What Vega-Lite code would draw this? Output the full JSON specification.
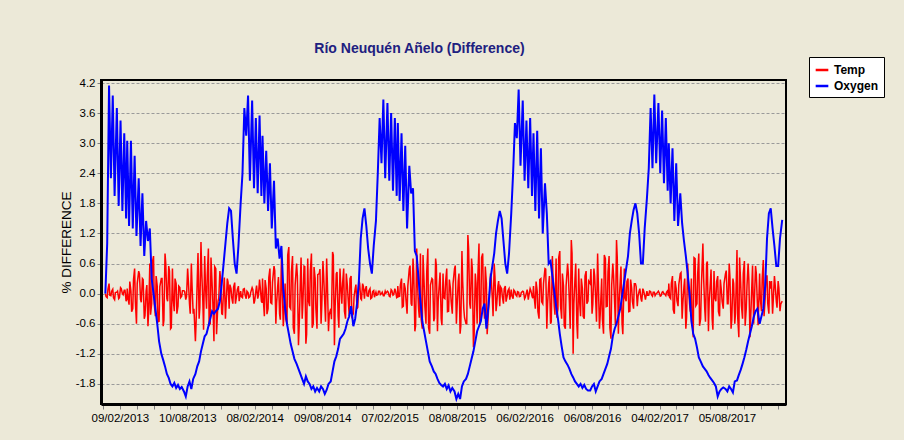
{
"$schema":"https://vega.github.io/schema/vega-lite/v6.json",
"width":685,"height":324,
"autosize":{"type":"none"},
"padding":{"left":101,"top":80,"right":118,"bottom":36},
"background":"#ECE9D8",
"title":{"text":"Río Neuquén Añelo (Difference)","font":"Liberation Sans","fontSize":14,"fontWeight":"bold","color":"#202080","anchor":"middle","dx":-24,"offset":1},
"config":{"view":{"stroke":"#000","strokeWidth":2},"font":"Liberation Sans","axisY":{"labelOverlap":false},"axisX":{"labelOverlap":false}},
"data":{"values":[
{"d":"2013-01-01","t":0,"o":0},
{"d":"2013-01-06","t":-0.08,"o":1.0},
{"d":"2013-01-11","t":0.2,"o":4.15},
{"d":"2013-01-16","t":-0.04,"o":2.3},
{"d":"2013-01-21","t":0.09,"o":3.95},
{"d":"2013-01-26","t":-0.12,"o":1.95},
{"d":"2013-02-01","t":0.03,"o":3.7},
{"d":"2013-02-06","t":-0.1,"o":1.75},
{"d":"2013-02-11","t":0.12,"o":3.45},
{"d":"2013-02-16","t":0.0,"o":1.65},
{"d":"2013-02-21","t":0.07,"o":3.2},
{"d":"2013-02-26","t":-0.15,"o":1.5},
{"d":"2013-03-01","t":0.1,"o":3.05},
{"d":"2013-03-06","t":-0.22,"o":1.35},
{"d":"2013-03-11","t":0.05,"o":3.05},
{"d":"2013-03-16","t":-0.3,"o":1.3},
{"d":"2013-03-21","t":0.5,"o":2.75},
{"d":"2013-03-26","t":-0.6,"o":1.15},
{"d":"2013-04-01","t":0.45,"o":2.3},
{"d":"2013-04-06","t":-0.12,"o":0.95},
{"d":"2013-04-11","t":0.3,"o":2.0},
{"d":"2013-04-16","t":-0.5,"o":0.75},
{"d":"2013-04-21","t":0.05,"o":1.45},
{"d":"2013-04-26","t":-0.65,"o":1.05},
{"d":"2013-05-01","t":0.6,"o":1.3},
{"d":"2013-05-06","t":-0.2,"o":0.3},
{"d":"2013-05-11","t":0.75,"o":0.0},
{"d":"2013-05-16","t":-0.45,"o":-0.3},
{"d":"2013-05-21","t":0.15,"o":-0.6},
{"d":"2013-05-26","t":-0.55,"o":-0.95},
{"d":"2013-06-01","t":0.3,"o":-1.2},
{"d":"2013-06-06","t":-0.65,"o":-1.32},
{"d":"2013-06-11","t":0.8,"o":-1.45},
{"d":"2013-06-16","t":-0.1,"o":-1.6},
{"d":"2013-06-21","t":0.55,"o":-1.68},
{"d":"2013-06-26","t":-0.7,"o":-1.8},
{"d":"2013-07-01","t":0.5,"o":-1.85},
{"d":"2013-07-06","t":-0.35,"o":-1.78},
{"d":"2013-07-11","t":0.2,"o":-1.88},
{"d":"2013-07-16","t":-0.25,"o":-1.82},
{"d":"2013-07-21","t":0.12,"o":-1.9},
{"d":"2013-07-26","t":-0.05,"o":-1.86},
{"d":"2013-08-01","t":0.06,"o":-1.95},
{"d":"2013-08-06","t":-0.12,"o":-2.05},
{"d":"2013-08-11","t":0.5,"o":-1.85},
{"d":"2013-08-16","t":-0.2,"o":-1.75},
{"d":"2013-08-21","t":0.6,"o":-1.9},
{"d":"2013-08-26","t":-0.4,"o":-1.7},
{"d":"2013-09-01","t":-0.95,"o":-1.6},
{"d":"2013-09-06","t":0.3,"o":-1.45},
{"d":"2013-09-11","t":-0.5,"o":-1.35},
{"d":"2013-09-16","t":1.03,"o":-1.15},
{"d":"2013-09-21","t":-0.15,"o":-1.0},
{"d":"2013-09-26","t":0.75,"o":-0.85},
{"d":"2013-10-01","t":-0.3,"o":-0.8},
{"d":"2013-10-06","t":0.9,"o":-0.65},
{"d":"2013-10-11","t":-0.6,"o":-0.5},
{"d":"2013-10-16","t":0.2,"o":-0.35},
{"d":"2013-10-21","t":-0.95,"o":-0.4},
{"d":"2013-10-26","t":0.5,"o":-0.35},
{"d":"2013-11-01","t":-0.15,"o":-0.3},
{"d":"2013-11-06","t":0.45,"o":-0.15},
{"d":"2013-11-11","t":-0.4,"o":0.2},
{"d":"2013-11-16","t":0.1,"o":0.6},
{"d":"2013-11-21","t":-0.5,"o":1.0},
{"d":"2013-11-26","t":0.3,"o":1.4},
{"d":"2013-12-01","t":-0.3,"o":1.7},
{"d":"2013-12-06","t":0.1,"o":1.65},
{"d":"2013-12-11","t":-0.2,"o":1.1},
{"d":"2013-12-16","t":0.22,"o":0.6},
{"d":"2013-12-21","t":-0.05,"o":0.4},
{"d":"2013-12-26","t":0.15,"o":0.95},
{"d":"2014-01-01","t":0.05,"o":1.8},
{"d":"2014-01-06","t":-0.08,"o":2.4},
{"d":"2014-01-11","t":0.1,"o":3.7},
{"d":"2014-01-16","t":-0.1,"o":3.15},
{"d":"2014-01-21","t":0.02,"o":3.95},
{"d":"2014-01-26","t":-0.06,"o":2.25},
{"d":"2014-02-01","t":0.12,"o":3.85},
{"d":"2014-02-06","t":-0.2,"o":2.1},
{"d":"2014-02-11","t":0.05,"o":3.5},
{"d":"2014-02-16","t":-0.1,"o":2.0},
{"d":"2014-02-21","t":0.28,"o":3.55},
{"d":"2014-02-26","t":-0.15,"o":1.95},
{"d":"2014-03-01","t":0.3,"o":3.15},
{"d":"2014-03-06","t":-0.45,"o":1.8},
{"d":"2014-03-11","t":0.1,"o":2.85},
{"d":"2014-03-16","t":-0.3,"o":1.65},
{"d":"2014-03-21","t":0.5,"o":2.6},
{"d":"2014-03-26","t":-0.2,"o":1.3},
{"d":"2014-04-01","t":0.55,"o":2.25},
{"d":"2014-04-06","t":-0.6,"o":0.9},
{"d":"2014-04-11","t":0.15,"o":1.1},
{"d":"2014-04-16","t":-0.4,"o":0.7},
{"d":"2014-04-21","t":0.7,"o":0.95},
{"d":"2014-04-26","t":-0.65,"o":0.1},
{"d":"2014-05-01","t":0.2,"o":-0.3},
{"d":"2014-05-06","t":-0.6,"o":-0.6},
{"d":"2014-05-11","t":0.93,"o":-0.8},
{"d":"2014-05-16","t":-0.3,"o":-1.0},
{"d":"2014-05-21","t":0.75,"o":-1.15},
{"d":"2014-05-26","t":-0.8,"o":-1.3},
{"d":"2014-06-01","t":0.6,"o":-1.4},
{"d":"2014-06-06","t":-1.03,"o":-1.5},
{"d":"2014-06-11","t":0.2,"o":-1.6},
{"d":"2014-06-16","t":-0.5,"o":-1.7},
{"d":"2014-06-21","t":0.55,"o":-1.8},
{"d":"2014-06-26","t":-1.0,"o":-1.65},
{"d":"2014-07-01","t":0.7,"o":-1.75},
{"d":"2014-07-06","t":-0.25,"o":-1.8},
{"d":"2014-07-11","t":0.8,"o":-1.9},
{"d":"2014-07-16","t":-0.6,"o":-1.85},
{"d":"2014-07-21","t":0.3,"o":-1.95},
{"d":"2014-07-26","t":-0.7,"o":-1.88},
{"d":"2014-08-01","t":0.4,"o":-1.95},
{"d":"2014-08-06","t":-0.6,"o":-1.85},
{"d":"2014-08-11","t":0.65,"o":-1.9},
{"d":"2014-08-16","t":-0.2,"o":-2.0},
{"d":"2014-08-21","t":0.7,"o":-1.92},
{"d":"2014-08-26","t":-0.75,"o":-1.8},
{"d":"2014-09-01","t":-0.3,"o":-1.75},
{"d":"2014-09-06","t":0.83,"o":-1.55},
{"d":"2014-09-11","t":-1.03,"o":-1.35},
{"d":"2014-09-16","t":0.4,"o":-1.25},
{"d":"2014-09-21","t":-0.45,"o":-1.1},
{"d":"2014-09-26","t":0.5,"o":-0.9},
{"d":"2014-10-01","t":-0.2,"o":-0.85},
{"d":"2014-10-06","t":0.5,"o":-0.8},
{"d":"2014-10-11","t":-0.5,"o":-0.7},
{"d":"2014-10-16","t":0.15,"o":-0.55},
{"d":"2014-10-21","t":-0.45,"o":-0.45},
{"d":"2014-10-26","t":0.35,"o":-0.25},
{"d":"2014-11-01","t":-0.4,"o":-0.65},
{"d":"2014-11-06","t":0.1,"o":-0.5},
{"d":"2014-11-11","t":-0.3,"o":-0.2},
{"d":"2014-11-16","t":0.25,"o":0.25},
{"d":"2014-11-21","t":-0.1,"o":1.1},
{"d":"2014-11-26","t":0.2,"o":1.5},
{"d":"2014-12-01","t":-0.1,"o":1.7},
{"d":"2014-12-06","t":0.15,"o":1.35},
{"d":"2014-12-11","t":-0.05,"o":0.9},
{"d":"2014-12-16","t":0.1,"o":0.6},
{"d":"2014-12-21","t":-0.08,"o":0.4},
{"d":"2014-12-26","t":0.06,"o":0.95},
{"d":"2015-01-01","t":0.03,"o":1.45},
{"d":"2015-01-06","t":-0.02,"o":2.4},
{"d":"2015-01-11","t":0.05,"o":3.5},
{"d":"2015-01-16","t":0.0,"o":2.6},
{"d":"2015-01-21","t":-0.04,"o":3.87},
{"d":"2015-01-26","t":0.05,"o":2.3},
{"d":"2015-02-01","t":0.05,"o":3.8},
{"d":"2015-02-06","t":-0.05,"o":2.25},
{"d":"2015-02-11","t":0.08,"o":3.6},
{"d":"2015-02-16","t":-0.03,"o":2.05},
{"d":"2015-02-21","t":0.1,"o":3.5},
{"d":"2015-02-26","t":-0.08,"o":1.95},
{"d":"2015-03-01","t":0.15,"o":3.4},
{"d":"2015-03-06","t":-0.05,"o":1.85},
{"d":"2015-03-11","t":0.3,"o":3.2},
{"d":"2015-03-16","t":-0.25,"o":1.65},
{"d":"2015-03-21","t":0.1,"o":2.95},
{"d":"2015-03-26","t":-0.4,"o":1.3},
{"d":"2015-04-01","t":0.5,"o":2.55},
{"d":"2015-04-06","t":-0.2,"o":2.0},
{"d":"2015-04-11","t":0.7,"o":2.1},
{"d":"2015-04-16","t":-0.75,"o":0.85},
{"d":"2015-04-21","t":0.9,"o":0.75},
{"d":"2015-04-26","t":-0.3,"o":0.3},
{"d":"2015-05-01","t":0.8,"o":-0.15},
{"d":"2015-05-06","t":-0.7,"o":-0.55},
{"d":"2015-05-11","t":0.2,"o":-0.75},
{"d":"2015-05-16","t":-0.6,"o":-0.95},
{"d":"2015-05-21","t":0.9,"o":-1.15},
{"d":"2015-05-26","t":-0.8,"o":-1.35},
{"d":"2015-06-01","t":0.3,"o":-1.45},
{"d":"2015-06-06","t":-0.55,"o":-1.55},
{"d":"2015-06-11","t":0.7,"o":-1.6},
{"d":"2015-06-16","t":-0.75,"o":-1.7},
{"d":"2015-06-21","t":0.2,"o":-1.78},
{"d":"2015-06-26","t":-0.5,"o":-1.82},
{"d":"2015-07-01","t":0.4,"o":-1.85},
{"d":"2015-07-06","t":-0.1,"o":-1.8},
{"d":"2015-07-11","t":0.5,"o":-1.9},
{"d":"2015-07-16","t":-0.35,"o":-1.83},
{"d":"2015-07-21","t":0.1,"o":-1.95},
{"d":"2015-07-26","t":-0.4,"o":-1.88},
{"d":"2015-08-01","t":0.5,"o":-1.95},
{"d":"2015-08-06","t":-0.6,"o":-2.1},
{"d":"2015-08-11","t":0.25,"o":-2.0},
{"d":"2015-08-16","t":-0.8,"o":-2.1},
{"d":"2015-08-21","t":0.85,"o":-1.85},
{"d":"2015-08-26","t":-0.3,"o":-1.75},
{"d":"2015-09-01","t":-0.6,"o":-1.7},
{"d":"2015-09-06","t":1.17,"o":-1.6},
{"d":"2015-09-11","t":-0.2,"o":-1.45},
{"d":"2015-09-16","t":0.7,"o":-1.3},
{"d":"2015-09-21","t":-1.07,"o":-1.15},
{"d":"2015-09-26","t":0.4,"o":-0.95},
{"d":"2015-10-01","t":-0.6,"o":-0.75},
{"d":"2015-10-06","t":1.0,"o":-0.65},
{"d":"2015-10-11","t":-0.3,"o":-0.55},
{"d":"2015-10-16","t":0.8,"o":-0.3},
{"d":"2015-10-21","t":-0.5,"o":-0.2},
{"d":"2015-10-26","t":0.2,"o":-0.7},
{"d":"2015-11-01","t":-0.3,"o":-0.2},
{"d":"2015-11-06","t":0.4,"o":0.3},
{"d":"2015-11-11","t":-0.1,"o":0.55},
{"d":"2015-11-16","t":0.6,"o":0.8},
{"d":"2015-11-21","t":-0.35,"o":1.2},
{"d":"2015-11-26","t":0.15,"o":1.45},
{"d":"2015-12-01","t":-0.25,"o":1.65},
{"d":"2015-12-06","t":0.1,"o":1.5},
{"d":"2015-12-11","t":-0.2,"o":1.05},
{"d":"2015-12-16","t":0.15,"o":0.6},
{"d":"2015-12-21","t":-0.05,"o":0.4},
{"d":"2015-12-26","t":0.1,"o":0.8},
{"d":"2016-01-01","t":0.08,"o":1.6},
{"d":"2016-01-06","t":-0.1,"o":2.4},
{"d":"2016-01-11","t":0.04,"o":3.4},
{"d":"2016-01-16","t":-0.05,"o":3.1},
{"d":"2016-01-21","t":0.03,"o":4.07},
{"d":"2016-01-26","t":-0.05,"o":2.55},
{"d":"2016-02-01","t":0.05,"o":3.85},
{"d":"2016-02-06","t":-0.1,"o":2.25},
{"d":"2016-02-11","t":0.02,"o":3.45},
{"d":"2016-02-16","t":-0.12,"o":2.1},
{"d":"2016-02-21","t":0.1,"o":3.5},
{"d":"2016-02-26","t":-0.05,"o":1.95},
{"d":"2016-03-01","t":0.15,"o":3.2},
{"d":"2016-03-06","t":-0.3,"o":1.65},
{"d":"2016-03-11","t":0.05,"o":3.25},
{"d":"2016-03-16","t":-0.5,"o":1.5},
{"d":"2016-03-21","t":0.3,"o":2.9},
{"d":"2016-03-26","t":-0.2,"o":1.2},
{"d":"2016-04-01","t":0.5,"o":2.2},
{"d":"2016-04-06","t":-0.7,"o":1.6},
{"d":"2016-04-11","t":0.2,"o":0.6},
{"d":"2016-04-16","t":-0.6,"o":0.65},
{"d":"2016-04-21","t":0.75,"o":0.35},
{"d":"2016-04-26","t":-0.25,"o":0.05},
{"d":"2016-05-01","t":0.7,"o":-0.25},
{"d":"2016-05-06","t":-0.3,"o":-0.5},
{"d":"2016-05-11","t":0.85,"o":-0.8},
{"d":"2016-05-16","t":-0.5,"o":-1.05},
{"d":"2016-05-21","t":0.15,"o":-1.27},
{"d":"2016-05-26","t":-0.7,"o":-1.35},
{"d":"2016-06-01","t":0.6,"o":-1.42},
{"d":"2016-06-06","t":-0.2,"o":-1.5},
{"d":"2016-06-11","t":1.07,"o":-1.6},
{"d":"2016-06-16","t":-1.2,"o":-1.67},
{"d":"2016-06-21","t":0.3,"o":-1.75},
{"d":"2016-06-26","t":-0.6,"o":-1.8},
{"d":"2016-07-01","t":0.5,"o":-1.85},
{"d":"2016-07-06","t":-0.45,"o":-1.8},
{"d":"2016-07-11","t":0.1,"o":-1.88},
{"d":"2016-07-16","t":-0.5,"o":-1.82},
{"d":"2016-07-21","t":0.45,"o":-1.9},
{"d":"2016-07-26","t":-0.15,"o":-1.93},
{"d":"2016-08-01","t":0.2,"o":-1.93},
{"d":"2016-08-06","t":-0.4,"o":-1.85},
{"d":"2016-08-11","t":0.5,"o":-1.8},
{"d":"2016-08-16","t":-0.15,"o":-1.95},
{"d":"2016-08-21","t":0.8,"o":-1.85},
{"d":"2016-08-26","t":-0.7,"o":-1.75},
{"d":"2016-09-01","t":0.3,"o":-1.7},
{"d":"2016-09-06","t":-0.8,"o":-1.6},
{"d":"2016-09-11","t":0.7,"o":-1.5},
{"d":"2016-09-16","t":-0.25,"o":-1.4},
{"d":"2016-09-21","t":0.75,"o":-1.25},
{"d":"2016-09-26","t":-0.9,"o":-1.1},
{"d":"2016-10-01","t":0.6,"o":-0.85},
{"d":"2016-10-06","t":-0.2,"o":-0.7},
{"d":"2016-10-11","t":1.07,"o":-0.6},
{"d":"2016-10-16","t":-0.8,"o":-0.45},
{"d":"2016-10-21","t":0.25,"o":-0.3},
{"d":"2016-10-26","t":-0.6,"o":-0.05},
{"d":"2016-11-01","t":0.5,"o":0.25},
{"d":"2016-11-06","t":-0.15,"o":0.5},
{"d":"2016-11-11","t":0.3,"o":0.75},
{"d":"2016-11-16","t":-0.35,"o":1.2},
{"d":"2016-11-21","t":0.1,"o":1.45},
{"d":"2016-11-26","t":-0.3,"o":1.67},
{"d":"2016-12-01","t":0.2,"o":1.8},
{"d":"2016-12-06","t":-0.25,"o":1.6},
{"d":"2016-12-11","t":0.05,"o":1.2},
{"d":"2016-12-16","t":-0.1,"o":0.6},
{"d":"2016-12-21","t":0.1,"o":0.6},
{"d":"2016-12-26","t":-0.04,"o":1.3},
{"d":"2017-01-01","t":0.05,"o":1.9},
{"d":"2017-01-06","t":-0.03,"o":2.5},
{"d":"2017-01-11","t":0.04,"o":3.7},
{"d":"2017-01-16","t":-0.05,"o":2.5},
{"d":"2017-01-21","t":0.03,"o":3.97},
{"d":"2017-01-26","t":0.0,"o":2.6},
{"d":"2017-02-01","t":0.05,"o":3.8},
{"d":"2017-02-06","t":-0.05,"o":2.4},
{"d":"2017-02-11","t":0.03,"o":3.65},
{"d":"2017-02-16","t":0.0,"o":2.2},
{"d":"2017-02-21","t":-0.04,"o":3.5},
{"d":"2017-02-26","t":0.06,"o":2.05},
{"d":"2017-03-01","t":0.2,"o":3.0},
{"d":"2017-03-06","t":-0.1,"o":1.8},
{"d":"2017-03-11","t":0.35,"o":2.9},
{"d":"2017-03-16","t":-0.4,"o":1.45},
{"d":"2017-03-21","t":0.1,"o":2.6},
{"d":"2017-03-26","t":-0.25,"o":1.35},
{"d":"2017-04-01","t":0.4,"o":2.0},
{"d":"2017-04-06","t":-0.5,"o":1.4},
{"d":"2017-04-11","t":0.15,"o":1.05},
{"d":"2017-04-16","t":-0.7,"o":0.75},
{"d":"2017-04-21","t":0.6,"o":0.4},
{"d":"2017-04-26","t":-0.2,"o":0.0},
{"d":"2017-05-01","t":0.3,"o":-0.55},
{"d":"2017-05-06","t":-0.87,"o":-0.8},
{"d":"2017-05-11","t":0.7,"o":-0.9},
{"d":"2017-05-16","t":-0.2,"o":-1.07},
{"d":"2017-05-21","t":0.8,"o":-1.27},
{"d":"2017-05-26","t":-0.5,"o":-1.35},
{"d":"2017-06-01","t":1.0,"o":-1.45},
{"d":"2017-06-06","t":-0.3,"o":-1.5},
{"d":"2017-06-11","t":0.6,"o":-1.55},
{"d":"2017-06-16","t":-0.75,"o":-1.62},
{"d":"2017-06-21","t":0.2,"o":-1.68},
{"d":"2017-06-26","t":-0.5,"o":-1.73},
{"d":"2017-07-01","t":0.45,"o":-1.78},
{"d":"2017-07-06","t":-0.15,"o":-1.85},
{"d":"2017-07-11","t":0.35,"o":-2.05},
{"d":"2017-07-16","t":-0.45,"o":-1.95},
{"d":"2017-07-21","t":0.05,"o":-1.9},
{"d":"2017-07-26","t":-0.3,"o":-1.87},
{"d":"2017-08-01","t":0.4,"o":-1.9},
{"d":"2017-08-06","t":-0.2,"o":-1.95},
{"d":"2017-08-11","t":0.6,"o":-1.85},
{"d":"2017-08-16","t":-0.7,"o":-1.9},
{"d":"2017-08-21","t":0.3,"o":-1.97},
{"d":"2017-08-26","t":-0.6,"o":-1.75},
{"d":"2017-09-01","t":0.87,"o":-1.73},
{"d":"2017-09-06","t":-0.87,"o":-1.62},
{"d":"2017-09-11","t":0.2,"o":-1.52},
{"d":"2017-09-16","t":-0.5,"o":-1.4},
{"d":"2017-09-21","t":0.65,"o":-1.27},
{"d":"2017-09-26","t":-0.3,"o":-1.12},
{"d":"2017-10-01","t":0.6,"o":-0.95},
{"d":"2017-10-06","t":-0.87,"o":-0.8},
{"d":"2017-10-11","t":0.15,"o":-0.65},
{"d":"2017-10-16","t":-0.6,"o":-0.47},
{"d":"2017-10-21","t":0.55,"o":-0.35},
{"d":"2017-10-26","t":-0.2,"o":-0.3},
{"d":"2017-11-01","t":0.4,"o":-0.6},
{"d":"2017-11-06","t":-0.35,"o":-0.45},
{"d":"2017-11-11","t":0.67,"o":-0.3},
{"d":"2017-11-16","t":-0.1,"o":0.15},
{"d":"2017-11-21","t":0.35,"o":1.1},
{"d":"2017-11-26","t":-0.4,"o":1.6},
{"d":"2017-12-01","t":0.1,"o":1.7},
{"d":"2017-12-06","t":-0.4,"o":1.3},
{"d":"2017-12-11","t":0.35,"o":0.95},
{"d":"2017-12-16","t":-0.15,"o":0.55},
{"d":"2017-12-21","t":0.25,"o":0.55},
{"d":"2017-12-26","t":-0.35,"o":1.1},
{"d":"2018-01-01","t":-0.15,"o":1.47},
{"d":"2013-01-03","t":-0.06},{"d":"2013-01-08","t":0.09},{"d":"2013-01-13","t":-0.03},{"d":"2013-01-18","t":0.05},{"d":"2013-01-23","t":-0.08},{"d":"2013-01-28","t":0.02},
{"d":"2013-02-03","t":0.05},{"d":"2013-02-08","t":-0.08},{"d":"2013-02-13","t":0.1},{"d":"2013-02-18","t":-0.02},{"d":"2013-02-23","t":0.07},{"d":"2013-02-28","t":-0.11},
{"d":"2013-03-03","t":-0.08},{"d":"2013-03-08","t":0.24},{"d":"2013-03-13","t":-0.36},{"d":"2013-03-18","t":0.28},{"d":"2013-03-23","t":-0.16},{"d":"2013-03-28","t":0.2},
{"d":"2013-04-03","t":0.39},{"d":"2013-04-08","t":-0.17},{"d":"2013-04-13","t":0.28},{"d":"2013-04-18","t":-0.44},{"d":"2013-04-23","t":0.17},{"d":"2013-04-28","t":-0.33},
{"d":"2013-05-03","t":-0.42},{"d":"2013-05-08","t":0.63},{"d":"2013-05-13","t":-0.21},{"d":"2013-05-18","t":0.35},{"d":"2013-05-23","t":-0.56},{"d":"2013-05-28","t":0.14},
{"d":"2013-06-03","t":0.3},{"d":"2013-06-08","t":-0.53},{"d":"2013-06-13","t":0.6},{"d":"2013-06-18","t":-0.15},{"d":"2013-06-23","t":0.45},{"d":"2013-06-28","t":-0.68},
{"d":"2013-07-03","t":-0.1},{"d":"2013-07-08","t":0.3},{"d":"2013-07-13","t":-0.4},{"d":"2013-07-18","t":0.15},{"d":"2013-07-23","t":-0.08},{"d":"2013-07-28","t":0.06},
{"d":"2013-08-03","t":0.04},{"d":"2013-08-08","t":-0.06},{"d":"2013-08-13","t":0.25},{"d":"2013-08-18","t":-0.4},{"d":"2013-08-23","t":0.15},{"d":"2013-08-28","t":-0.3},
{"d":"2013-09-03","t":-0.54},{"d":"2013-09-08","t":0.81},{"d":"2013-09-13","t":-0.27},{"d":"2013-09-18","t":0.45},{"d":"2013-09-23","t":-0.72},{"d":"2013-09-28","t":0.18},
{"d":"2013-10-03","t":0.36},{"d":"2013-10-08","t":-0.63},{"d":"2013-10-13","t":0.72},{"d":"2013-10-18","t":-0.18},{"d":"2013-10-23","t":0.54},{"d":"2013-10-28","t":-0.81},
{"d":"2013-11-03","t":-0.09},{"d":"2013-11-08","t":0.27},{"d":"2013-11-13","t":-0.41},{"d":"2013-11-18","t":0.32},{"d":"2013-11-23","t":-0.18},{"d":"2013-11-28","t":0.23},
{"d":"2013-12-03","t":0.18},{"d":"2013-12-08","t":-0.08},{"d":"2013-12-13","t":0.13},{"d":"2013-12-18","t":-0.2},{"d":"2013-12-23","t":0.08},{"d":"2013-12-28","t":-0.15},
{"d":"2014-01-03","t":-0.06},{"d":"2014-01-08","t":0.09},{"d":"2014-01-13","t":-0.03},{"d":"2014-01-18","t":0.05},{"d":"2014-01-23","t":-0.08},{"d":"2014-01-28","t":0.02},
{"d":"2014-02-03","t":0.08},{"d":"2014-02-08","t":-0.14},{"d":"2014-02-13","t":0.16},{"d":"2014-02-18","t":-0.04},{"d":"2014-02-23","t":0.12},{"d":"2014-02-28","t":-0.18},
{"d":"2014-03-03","t":-0.09},{"d":"2014-03-08","t":0.27},{"d":"2014-03-13","t":-0.41},{"d":"2014-03-18","t":0.32},{"d":"2014-03-23","t":-0.18},{"d":"2014-03-28","t":0.23},
{"d":"2014-04-03","t":0.46},{"d":"2014-04-08","t":-0.2},{"d":"2014-04-13","t":0.33},{"d":"2014-04-18","t":-0.52},{"d":"2014-04-23","t":0.2},{"d":"2014-04-28","t":-0.39},
{"d":"2014-05-03","t":-0.51},{"d":"2014-05-08","t":0.77},{"d":"2014-05-13","t":-0.26},{"d":"2014-05-18","t":0.43},{"d":"2014-05-23","t":-0.68},{"d":"2014-05-28","t":0.17},
{"d":"2014-06-03","t":0.36},{"d":"2014-06-08","t":-0.63},{"d":"2014-06-13","t":0.72},{"d":"2014-06-18","t":-0.18},{"d":"2014-06-23","t":0.54},{"d":"2014-06-28","t":-0.81},
{"d":"2014-07-03","t":-0.15},{"d":"2014-07-08","t":0.45},{"d":"2014-07-13","t":-0.68},{"d":"2014-07-18","t":0.53},{"d":"2014-07-23","t":-0.3},{"d":"2014-07-28","t":0.38},
{"d":"2014-08-03","t":0.49},{"d":"2014-08-08","t":-0.21},{"d":"2014-08-13","t":0.35},{"d":"2014-08-18","t":-0.56},{"d":"2014-08-23","t":0.21},{"d":"2014-08-28","t":-0.42},
{"d":"2014-09-03","t":-0.51},{"d":"2014-09-08","t":0.77},{"d":"2014-09-13","t":-0.26},{"d":"2014-09-18","t":0.43},{"d":"2014-09-23","t":-0.68},{"d":"2014-09-28","t":0.17},
{"d":"2014-10-03","t":0.2},{"d":"2014-10-08","t":-0.35},{"d":"2014-10-13","t":0.4},{"d":"2014-10-18","t":-0.1},{"d":"2014-10-23","t":0.3},{"d":"2014-10-28","t":-0.45},
{"d":"2014-11-03","t":-0.06},{"d":"2014-11-08","t":0.18},{"d":"2014-11-13","t":-0.27},{"d":"2014-11-18","t":0.21},{"d":"2014-11-23","t":-0.12},{"d":"2014-11-28","t":0.15},
{"d":"2014-12-03","t":0.08},{"d":"2014-12-08","t":-0.04},{"d":"2014-12-13","t":0.06},{"d":"2014-12-18","t":-0.1},{"d":"2014-12-23","t":0.04},{"d":"2014-12-28","t":-0.07},
{"d":"2015-01-03","t":-0.03},{"d":"2015-01-08","t":0.05},{"d":"2015-01-13","t":-0.02},{"d":"2015-01-18","t":0.03},{"d":"2015-01-23","t":-0.04},{"d":"2015-01-28","t":0.01},
{"d":"2015-02-03","t":0.03},{"d":"2015-02-08","t":-0.06},{"d":"2015-02-13","t":0.06},{"d":"2015-02-18","t":-0.02},{"d":"2015-02-23","t":0.05},{"d":"2015-02-28","t":-0.07},
{"d":"2015-03-03","t":-0.06},{"d":"2015-03-08","t":0.18},{"d":"2015-03-13","t":-0.27},{"d":"2015-03-18","t":0.21},{"d":"2015-03-23","t":-0.12},{"d":"2015-03-28","t":0.15},
{"d":"2015-04-03","t":0.56},{"d":"2015-04-08","t":-0.24},{"d":"2015-04-13","t":0.4},{"d":"2015-04-18","t":-0.64},{"d":"2015-04-23","t":0.24},{"d":"2015-04-28","t":-0.48},
{"d":"2015-05-03","t":-0.51},{"d":"2015-05-08","t":0.77},{"d":"2015-05-13","t":-0.26},{"d":"2015-05-18","t":0.43},{"d":"2015-05-23","t":-0.68},{"d":"2015-05-28","t":0.17},
{"d":"2015-06-03","t":0.28},{"d":"2015-06-08","t":-0.49},{"d":"2015-06-13","t":0.56},{"d":"2015-06-18","t":-0.14},{"d":"2015-06-23","t":0.42},{"d":"2015-06-28","t":-0.63},
{"d":"2015-07-03","t":-0.08},{"d":"2015-07-08","t":0.24},{"d":"2015-07-13","t":-0.36},{"d":"2015-07-18","t":0.28},{"d":"2015-07-23","t":-0.16},{"d":"2015-07-28","t":0.2},
{"d":"2015-08-03","t":0.56},{"d":"2015-08-08","t":-0.24},{"d":"2015-08-13","t":0.4},{"d":"2015-08-18","t":-0.64},{"d":"2015-08-23","t":0.24},{"d":"2015-08-28","t":-0.48},
{"d":"2015-09-03","t":-0.6},{"d":"2015-09-08","t":0.9},{"d":"2015-09-13","t":-0.3},{"d":"2015-09-18","t":0.5},{"d":"2015-09-23","t":-0.8},{"d":"2015-09-28","t":0.2},
{"d":"2015-10-03","t":0.36},{"d":"2015-10-08","t":-0.63},{"d":"2015-10-13","t":0.72},{"d":"2015-10-18","t":-0.18},{"d":"2015-10-23","t":0.54},{"d":"2015-10-28","t":-0.81},
{"d":"2015-11-03","t":-0.1},{"d":"2015-11-08","t":0.3},{"d":"2015-11-13","t":-0.45},{"d":"2015-11-18","t":0.35},{"d":"2015-11-23","t":-0.2},{"d":"2015-11-28","t":0.25},
{"d":"2015-12-03","t":0.14},{"d":"2015-12-08","t":-0.06},{"d":"2015-12-13","t":0.1},{"d":"2015-12-18","t":-0.16},{"d":"2015-12-23","t":0.06},{"d":"2015-12-28","t":-0.12},
{"d":"2016-01-03","t":-0.05},{"d":"2016-01-08","t":0.07},{"d":"2016-01-13","t":-0.02},{"d":"2016-01-18","t":0.04},{"d":"2016-01-23","t":-0.06},{"d":"2016-01-28","t":0.02},
{"d":"2016-02-03","t":0.04},{"d":"2016-02-08","t":-0.07},{"d":"2016-02-13","t":0.08},{"d":"2016-02-18","t":-0.02},{"d":"2016-02-23","t":0.06},{"d":"2016-02-28","t":-0.09},
{"d":"2016-03-03","t":-0.08},{"d":"2016-03-08","t":0.24},{"d":"2016-03-13","t":-0.36},{"d":"2016-03-18","t":0.28},{"d":"2016-03-23","t":-0.16},{"d":"2016-03-28","t":0.2},
{"d":"2016-04-03","t":0.49},{"d":"2016-04-08","t":-0.21},{"d":"2016-04-13","t":0.35},{"d":"2016-04-18","t":-0.56},{"d":"2016-04-23","t":0.21},{"d":"2016-04-28","t":-0.42},
{"d":"2016-05-03","t":-0.48},{"d":"2016-05-08","t":0.72},{"d":"2016-05-13","t":-0.24},{"d":"2016-05-18","t":0.4},{"d":"2016-05-23","t":-0.64},{"d":"2016-05-28","t":0.16},
{"d":"2016-06-03","t":0.4},{"d":"2016-06-08","t":-0.7},{"d":"2016-06-13","t":0.8},{"d":"2016-06-18","t":-0.2},{"d":"2016-06-23","t":0.6},{"d":"2016-06-28","t":-0.9},
{"d":"2016-07-03","t":-0.1},{"d":"2016-07-08","t":0.3},{"d":"2016-07-13","t":-0.45},{"d":"2016-07-18","t":0.35},{"d":"2016-07-23","t":-0.2},{"d":"2016-07-28","t":0.25},
{"d":"2016-08-03","t":0.49},{"d":"2016-08-08","t":-0.21},{"d":"2016-08-13","t":0.35},{"d":"2016-08-18","t":-0.56},{"d":"2016-08-23","t":0.21},{"d":"2016-08-28","t":-0.42},
{"d":"2016-09-03","t":-0.51},{"d":"2016-09-08","t":0.77},{"d":"2016-09-13","t":-0.26},{"d":"2016-09-18","t":0.43},{"d":"2016-09-23","t":-0.68},{"d":"2016-09-28","t":0.17},
{"d":"2016-10-03","t":0.36},{"d":"2016-10-08","t":-0.63},{"d":"2016-10-13","t":0.72},{"d":"2016-10-18","t":-0.18},{"d":"2016-10-23","t":0.54},{"d":"2016-10-28","t":-0.81},
{"d":"2016-11-03","t":-0.08},{"d":"2016-11-08","t":0.24},{"d":"2016-11-13","t":-0.36},{"d":"2016-11-18","t":0.28},{"d":"2016-11-23","t":-0.16},{"d":"2016-11-28","t":0.2},
{"d":"2016-12-03","t":0.14},{"d":"2016-12-08","t":-0.06},{"d":"2016-12-13","t":0.1},{"d":"2016-12-18","t":-0.16},{"d":"2016-12-23","t":0.06},{"d":"2016-12-28","t":-0.12},
{"d":"2017-01-03","t":-0.03},{"d":"2017-01-08","t":0.05},{"d":"2017-01-13","t":-0.02},{"d":"2017-01-18","t":0.03},{"d":"2017-01-23","t":-0.04},{"d":"2017-01-28","t":0.01},
{"d":"2017-02-03","t":0.02},{"d":"2017-02-08","t":-0.04},{"d":"2017-02-13","t":0.04},{"d":"2017-02-18","t":-0.01},{"d":"2017-02-23","t":0.03},{"d":"2017-02-28","t":-0.05},
{"d":"2017-03-03","t":-0.07},{"d":"2017-03-08","t":0.21},{"d":"2017-03-13","t":-0.32},{"d":"2017-03-18","t":0.25},{"d":"2017-03-23","t":-0.14},{"d":"2017-03-28","t":0.18},
{"d":"2017-04-03","t":0.42},{"d":"2017-04-08","t":-0.18},{"d":"2017-04-13","t":0.3},{"d":"2017-04-18","t":-0.48},{"d":"2017-04-23","t":0.18},{"d":"2017-04-28","t":-0.36},
{"d":"2017-05-03","t":-0.48},{"d":"2017-05-08","t":0.72},{"d":"2017-05-13","t":-0.24},{"d":"2017-05-18","t":0.4},{"d":"2017-05-23","t":-0.64},{"d":"2017-05-28","t":0.16},
{"d":"2017-06-03","t":0.32},{"d":"2017-06-08","t":-0.56},{"d":"2017-06-13","t":0.64},{"d":"2017-06-18","t":-0.16},{"d":"2017-06-23","t":0.48},{"d":"2017-06-28","t":-0.72},
{"d":"2017-07-03","t":-0.08},{"d":"2017-07-08","t":0.24},{"d":"2017-07-13","t":-0.36},{"d":"2017-07-18","t":0.28},{"d":"2017-07-23","t":-0.16},{"d":"2017-07-28","t":0.2},
{"d":"2017-08-03","t":0.46},{"d":"2017-08-08","t":-0.2},{"d":"2017-08-13","t":0.33},{"d":"2017-08-18","t":-0.52},{"d":"2017-08-23","t":0.2},{"d":"2017-08-28","t":-0.39},
{"d":"2017-09-03","t":-0.48},{"d":"2017-09-08","t":0.72},{"d":"2017-09-13","t":-0.24},{"d":"2017-09-18","t":0.4},{"d":"2017-09-23","t":-0.64},{"d":"2017-09-28","t":0.16},
{"d":"2017-10-03","t":0.28},{"d":"2017-10-08","t":-0.49},{"d":"2017-10-13","t":0.56},{"d":"2017-10-18","t":-0.14},{"d":"2017-10-23","t":0.42},{"d":"2017-10-28","t":-0.63},
{"d":"2017-11-03","t":-0.1},{"d":"2017-11-08","t":0.3},{"d":"2017-11-13","t":-0.45},{"d":"2017-11-18","t":0.35},{"d":"2017-11-23","t":-0.2},{"d":"2017-11-28","t":0.25},
{"d":"2017-12-03","t":0.25},{"d":"2017-12-08","t":-0.11},{"d":"2017-12-13","t":0.18},{"d":"2017-12-18","t":-0.28},{"d":"2017-12-23","t":0.11},{"d":"2017-12-28","t":-0.21}
]},
"encoding":{
"x":{"field":"d","type":"temporal",
"scale":{"domain":[{"year":2012,"month":12,"date":20,"hours":7},{"year":2018,"month":1,"date":11,"hours":5}]},
"axis":{"title":null,"grid":false,"values":[
{"year":2012,"month":12,"date":25,"hours":12},
{"year":2013,"month":2,"date":9},
{"year":2013,"month":3,"date":26,"hours":12},
{"year":2013,"month":5,"date":11},
{"year":2013,"month":6,"date":25,"hours":12},
{"year":2013,"month":8,"date":10},
{"year":2013,"month":9,"date":24,"hours":12},
{"year":2013,"month":11,"date":9},
{"year":2013,"month":12,"date":24,"hours":12},
{"year":2014,"month":2,"date":8},
{"year":2014,"month":3,"date":25,"hours":12},
{"year":2014,"month":5,"date":10},
{"year":2014,"month":6,"date":24,"hours":12},
{"year":2014,"month":8,"date":9},
{"year":2014,"month":9,"date":23,"hours":12},
{"year":2014,"month":11,"date":8},
{"year":2014,"month":12,"date":23,"hours":12},
{"year":2015,"month":2,"date":7},
{"year":2015,"month":3,"date":24,"hours":12},
{"year":2015,"month":5,"date":9},
{"year":2015,"month":6,"date":23,"hours":12},
{"year":2015,"month":8,"date":8},
{"year":2015,"month":9,"date":22,"hours":12},
{"year":2015,"month":11,"date":7},
{"year":2015,"month":12,"date":22,"hours":12},
{"year":2016,"month":2,"date":6},
{"year":2016,"month":3,"date":22,"hours":12},
{"year":2016,"month":5,"date":7},
{"year":2016,"month":6,"date":21,"hours":12},
{"year":2016,"month":8,"date":6},
{"year":2016,"month":9,"date":20,"hours":12},
{"year":2016,"month":11,"date":5},
{"year":2016,"month":12,"date":20,"hours":12},
{"year":2017,"month":2,"date":4},
{"year":2017,"month":3,"date":21,"hours":12},
{"year":2017,"month":5,"date":6},
{"year":2017,"month":6,"date":20,"hours":12},
{"year":2017,"month":8,"date":5},
{"year":2017,"month":9,"date":19,"hours":12},
{"year":2017,"month":11,"date":4},
{"year":2017,"month":12,"date":19,"hours":12}],
"labelExpr":"indexof(['09/02/2013','10/08/2013','08/02/2014','09/08/2014','07/02/2015','08/08/2015','06/02/2016','06/08/2016','04/02/2017','05/08/2017'], timeFormat(datum.value,'%d/%m/%Y')) >= 0 ? timeFormat(datum.value,'%d/%m/%Y') : ''",
"labelOverlap":false,"labelFlush":false,"labelBound":false,
"tickColor":"#808080","tickSize":5,"labelFont":"Liberation Sans","labelFontSize":11.5,"labelColor":"#000","labelPadding":3,
"domainColor":"#000","domainWidth":3}}
},
"layer":[
{"mark":{"type":"line","strokeWidth":1.5,"interpolate":"linear","invalid":"filter"},
"encoding":{
"y":{"field":"t","type":"quantitative","scale":{"domain":[-2.2,4.26],"nice":false,"zero":false},
"axis":{"title":"% DIFFERENCE","values":[-1.8,-1.2,-0.6,0,0.6,1.2,1.8,2.4,3,3.6,4.2],
"labelExpr":"replace(format(datum.value,'.1f'),'\u2212','-')","labelOverlap":false,"labelBound":false,
"grid":true,"gridDash":[3,2],"gridColor":"#9a9a9a","gridWidth":1,
"tickColor":"#808080","tickSize":4,"labelPadding":2,"labelFont":"Liberation Sans","labelFontSize":11.5,"labelColor":"#000",
"titleFont":"Liberation Sans","titleFontSize":13.5,"titleFontWeight":"normal","titleColor":"#000","titlePadding":2,
"domainColor":"#000","domainWidth":3}},
"color":{"datum":"Temp","type":"nominal","scale":{"domain":["Temp","Oxygen"],"range":["#FF0000","#0000FF"]},
"legend":{"orient":"none","legendX":708,"legendY":-23,"title":null,"fillColor":"#ffffff","strokeColor":"#000","padding":5,
"symbolType":"stroke","symbolStrokeWidth":2.5,"symbolSize":160,"labelFont":"Liberation Sans","labelFontSize":12,"labelFontWeight":"bold","labelColor":"#000","rowPadding":2,"labelOffset":4}}
}},
{"mark":{"type":"line","strokeWidth":2,"interpolate":"linear","invalid":"filter"},
"encoding":{
"y":{"field":"o","type":"quantitative","scale":{"domain":[-2.2,4.26],"nice":false,"zero":false},
"axis":{"title":"% DIFFERENCE","values":[-1.8,-1.2,-0.6,0,0.6,1.2,1.8,2.4,3,3.6,4.2],
"labelExpr":"replace(format(datum.value,'.1f'),'\u2212','-')","labelOverlap":false,"labelBound":false,
"grid":true,"gridDash":[3,2],"gridColor":"#9a9a9a","gridWidth":1,
"tickColor":"#808080","tickSize":4,"labelPadding":2,"labelFont":"Liberation Sans","labelFontSize":11.5,"labelColor":"#000",
"titleFont":"Liberation Sans","titleFontSize":13.5,"titleFontWeight":"normal","titleColor":"#000","titlePadding":2,
"domainColor":"#000","domainWidth":3}},
"color":{"datum":"Oxygen","type":"nominal"}
}}
]
}
